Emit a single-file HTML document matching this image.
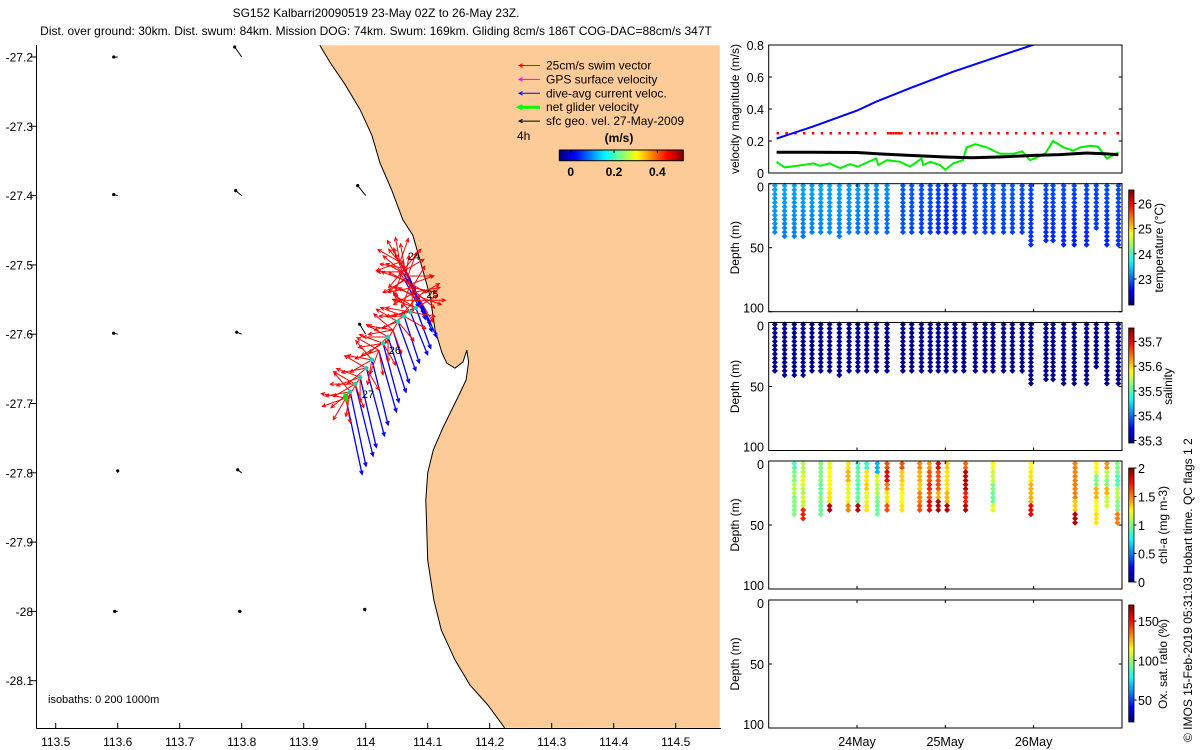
<!DOCTYPE html>
<html><head><meta charset="utf-8">
<style>
html,body{margin:0;padding:0;background:#fff;}
svg{display:block;font-family:"Liberation Sans",sans-serif;}
</style></head>
<body>
<svg id="fig" width="1200" height="750" viewBox="0 0 1200 750" xmlns="http://www.w3.org/2000/svg">
<defs>
<clipPath id="mapclip"><rect x="37" y="45" width="684" height="683"/></clipPath>
<clipPath id="velclip"><rect x="769" y="45" width="353" height="128"/></clipPath>
<linearGradient id="jetH" x1="0" y1="0" x2="1" y2="0">
<stop offset="0" stop-color="#00007f"/><stop offset="0.125" stop-color="#0000ff"/><stop offset="0.375" stop-color="#00ffff"/><stop offset="0.625" stop-color="#ffff00"/><stop offset="0.875" stop-color="#ff0000"/><stop offset="1" stop-color="#7f0000"/>
</linearGradient>
<linearGradient id="jetV" x1="0" y1="1" x2="0" y2="0">
<stop offset="0" stop-color="#00007f"/><stop offset="0.125" stop-color="#0000ff"/><stop offset="0.375" stop-color="#00ffff"/><stop offset="0.625" stop-color="#ffff00"/><stop offset="0.875" stop-color="#ff0000"/><stop offset="1" stop-color="#7f0000"/>
</linearGradient>
</defs>
<text x="376" y="17" font-size="12" text-anchor="middle">SG152 Kalbarri20090519 23-May 02Z to 26-May 23Z.</text>
<text x="376" y="35" font-size="12" text-anchor="middle">Dist. over ground: 30km. Dist. swum: 84km. Mission DOG: 74km. Swum: 169km. Gliding 8cm/s 186T COG-DAC=88cm/s 347T</text>
<g id="map"></g>
<g id="vel"></g>
<g id="prof"></g>
<text transform="translate(1192,742) rotate(-90)" font-size="12">© IMOS 15-Feb-2019 05:31:03 Hobart time. QC flags 1  2</text>
</svg>
<script>
// ---------------- DATA ----------------
const lonTicks=[113.5,113.6,113.7,113.8,113.9,114,114.1,114.2,114.3,114.4,114.5];
const latTicks=[-27.2,-27.3,-27.4,-27.5,-27.6,-27.7,-27.8,-27.9,-28,-28.1];
const coastLon=[113.926,113.942,113.967,113.991,114.010,114.023,114.042,114.060,114.076,114.092,114.104,114.112,114.123,114.131,114.144,114.157,114.163,114.166,114.162,114.152,114.141,114.125,114.109,114.100,114.097,114.100,114.110,114.122,114.144,114.168,114.197,114.224];
const coastLat=[-27.183,-27.207,-27.240,-27.276,-27.313,-27.353,-27.392,-27.435,-27.457,-27.507,-27.546,-27.594,-27.627,-27.642,-27.649,-27.640,-27.623,-27.640,-27.666,-27.685,-27.705,-27.734,-27.767,-27.800,-27.839,-27.926,-27.984,-28.027,-28.070,-28.106,-28.135,-28.168];
const diveLon=[114.055,114.063,114.059,114.068,114.063,114.072,114.075,114.080,114.084,114.088,114.081,114.072,114.062,114.052,114.044,114.036,114.028,114.021,114.010,114.001,113.991,113.983,113.975,113.968];
const diveLat=[-27.496,-27.505,-27.510,-27.516,-27.522,-27.528,-27.533,-27.539,-27.545,-27.551,-27.562,-27.568,-27.574,-27.582,-27.594,-27.604,-27.613,-27.623,-27.637,-27.649,-27.662,-27.672,-27.683,-27.692];
const dacSpeed=[0.22,0.24,0.26,0.28,0.30,0.32,0.34,0.36,0.38,0.40,0.43,0.46,0.49,0.52,0.55,0.58,0.61,0.64,0.67,0.70,0.72,0.74,0.76,0.78];
const dacDir=[152,154,150,156,152,155,157,155,158,156,160,158,162,160,163,162,165,164,166,165,167,166,168,168];
const swimDirs=[[300,330,20,250,350],[280,350,40,220,320],[310,60,270,200,340],[90,330,230,20,300],[290,120,10,240],[70,300,200,340],[100,260,30,180],[80,240,320,130],[60,290,110,220],[270,90,300,150],[250,300,290,60],[260,280,320,100],[240,290,270,120],[250,300,210,140],[280,260,310,160],[230,270,300,180],[260,290,240,150],[250,300,200,170],[240,280,320,190],[260,300,230,150],[250,290,210,180],[240,300,270,160],[260,230,320,190],[250,280,210,170]];
const gpsDives=[10,11,12,13,15,16,18,19,20,21,22,23];
const geoLon=[113.6,113.8,113.6,113.8,114.0,113.6,113.8,114.0,113.6,113.8,113.6,113.8,114.0];
const geoLat=[-27.2,-27.2,-27.4,-27.4,-27.4,-27.6,-27.6,-27.6,-27.8,-27.8,-28,-28,-28];
const geoU=[-0.04,-0.07,-0.04,-0.06,-0.08,-0.04,-0.05,-0.06,0,-0.04,-0.03,-0.02,-0.01];
const geoV=[0,0.10,0.01,0.05,0.10,0.01,0.02,0.10,0.02,0.03,0,0,0.02];
const dayLabels=["24May","25May","26May"];
const dayTicks=[1,2,3];
const velTicks=[0,0.2,0.4,0.6,0.8];
const blueT=[0.09,0.5,1.0,1.22,1.6,2.09,2.5,2.99,3.3];
const blueV=[0.215,0.29,0.39,0.446,0.53,0.633,0.71,0.80,0.86];
const blackT=[0.09,0.5,1.0,1.3,1.6,2.0,2.3,2.6,3.0,3.3,3.6,3.8,3.96];
const blackV=[0.13,0.13,0.128,0.118,0.11,0.10,0.095,0.10,0.11,0.115,0.125,0.12,0.115];
const greenT=[0.09,0.18,0.39,0.51,0.58,0.69,0.81,0.92,1.01,1.13,1.22,1.24,1.34,1.49,1.60,1.73,1.75,1.83,1.94,2.00,2.09,2.20,2.24,2.34,2.47,2.62,2.77,2.87,2.96,3.07,3.13,3.22,3.34,3.45,3.53,3.64,3.73,3.83,3.96];
const greenV=[0.07,0.035,0.05,0.06,0.045,0.06,0.03,0.055,0.04,0.07,0.09,0.05,0.08,0.07,0.04,0.09,0.05,0.07,0.05,0.02,0.06,0.08,0.16,0.18,0.16,0.12,0.12,0.135,0.08,0.105,0.12,0.2,0.16,0.14,0.16,0.17,0.165,0.09,0.13];
const redDotT=[0.1,0.2,0.3,0.4,0.5,0.6,0.7,0.8,0.9,1.0,1.1,1.2,1.35,1.38,1.41,1.44,1.47,1.5,1.6,1.7,1.8,1.85,1.9,2.0,2.1,2.2,2.3,2.4,2.5,2.6,2.7,2.8,2.9,3.0,3.1,3.2,3.3,3.4,3.5,3.6,3.7,3.8,3.95];
const profT=[0.07,0.18,0.29,0.39,0.49,0.59,0.69,0.80,0.91,1.01,1.11,1.22,1.34,1.52,1.62,1.73,1.83,1.92,2.01,2.11,2.21,2.34,2.45,2.54,2.66,2.76,2.87,2.97,3.14,3.22,3.34,3.46,3.60,3.71,3.83,3.96];
const profDepth=[40,42,42,44,41,41,40,42,40,40,40,41,40,40,40,40,40,40,40,40,40,40,40,40,40,40,38,48,47,47,48,48,48,35,48,48];
const tempTop=[23.3,23.3,23.28,23.3,23.28,23.3,23.3,23.28,23.25,23.25,23.22,23.2,23.2,22.95,22.95,22.9,22.9,22.85,22.8,22.8,22.85,22.9,22.9,22.95,22.95,22.95,22.9,22.85,22.9,22.9,22.9,22.88,22.85,22.85,22.9,22.9];
const tempBot=[23.15,23.1,23.1,23.05,23.1,23.1,23.15,23.1,23.1,23.05,23.0,23.0,23.0,22.9,22.85,22.8,22.8,22.7,22.7,22.7,22.75,22.8,22.8,22.8,22.8,22.8,22.8,22.75,22.7,22.7,22.7,22.65,22.7,22.8,22.7,22.75];
const salVal=[35.30,35.30,35.30,35.30,35.30,35.30,35.30,35.30,35.30,35.30,35.30,35.30,35.30,35.30,35.30,35.30,35.30,35.30,35.30,35.30,35.30,35.30,35.30,35.30,35.30,35.30,35.30,35.30,35.30,35.30,35.30,35.30,35.30,35.30,35.30,35.30];
const chlT=[0.29,0.39,0.59,0.69,0.90,1.01,1.11,1.23,1.34,1.51,1.71,1.82,1.92,2.02,2.23,2.54,2.97,3.47,3.71,3.83,3.95];
const chlDepth=[42,47,43,40,40,40,40,43,40,40,40,39,39,40,40,40,42,49,51,35,50];
const chlVals=[[0.9,1.0,1.1,1.0,1.0],[1.1,1.2,1.1,1.15,1.7],[1.0,1.0,0.95,1.0,0.95],[1.2,1.25,1.25,1.3,1.9],[1.3,1.4,1.2,1.2,1.5],[0.9,0.95,0.9,0.95,1.9],[0.85,1.3,1.35,1.2,1.3],[0.6,1.2,1.1,1.0,0.95],[1.6,1.8,1.5,1.3,1.6],[1.6,1.35,1.3,1.25,1.3],[1.5,1.4,1.35,1.5,1.6],[1.45,1.6,1.7,1.6,1.8],[1.8,1.6,1.6,1.4,1.9],[1.35,1.3,1.3,1.4,1.9],[1.55,1.9,1.9,1.7,1.9],[1.25,1.15,1.0,0.95,1.2],[1.25,1.3,1.4,1.4,1.8],[1.5,1.5,1.5,1.35,1.9],[1.25,1.0,1.4,1.25,1.3],[1.45,1.1,1.0,1.4,1.15],[1.0,0.9,1.1,1.0,1.5]];

// ---------------- HELPERS ----------------
const NS="http://www.w3.org/2000/svg";
function mk(parent,tag,attrs,txt){const e=document.createElementNS(NS,tag);for(const k in attrs)e.setAttribute(k,attrs[k]);if(txt!==undefined)e.textContent=txt;parent.appendChild(e);return e;}
function jet(f){f=Math.max(0,Math.min(1,f));
 const r=Math.max(0,Math.min(1,Math.min(4*f-1.5,-4*f+4.5)));
 const g=Math.max(0,Math.min(1,Math.min(4*f-0.5,-4*f+3.5)));
 const b=Math.max(0,Math.min(1,Math.min(4*f+0.5,-4*f+2.5)));
 return "rgb("+Math.round(r*255)+","+Math.round(g*255)+","+Math.round(b*255)+")";}
const xLon=lon=>55.7+(lon-113.5)*620;
const yLat=lat=>57+(-27.2-lat)*693;
const PXMS=100;
function arrow(parent,x1,y1,x2,y2,col,w,head,name){
 const g=mk(parent,'g',{});
 
 
 mk(g,'line',{x1:x1,y1:y1,x2:x2,y2:y2,stroke:col,'stroke-width':w});
 const a=Math.atan2(y2-y1,x2-x1);
 const p1=[x2-head*Math.cos(a-0.45),y2-head*Math.sin(a-0.45)],p2=[x2-head*Math.cos(a+0.45),y2-head*Math.sin(a+0.45)];
 mk(g,'polyline',{points:p1.join(',')+' '+x2+','+y2+' '+p2.join(','),fill:'none',stroke:col,'stroke-width':w});
 return g;}

// ---------------- MAP ----------------
const map=document.getElementById('map');
const inner=mk(map,'g',{'clip-path':'url(#mapclip)'});
let pts=coastLon.map((l,i)=>xLon(l).toFixed(1)+','+yLat(coastLat[i]).toFixed(1));
const xR=xLon(114.571);
const land=mk(inner,'polygon',{points:pts.join(' ')+' '+xR+','+yLat(-28.168)+' '+xR+','+yLat(-27.183),fill:'#fdcb97',stroke:'none'});


const coast=mk(inner,'polyline',{points:pts.join(' '),fill:'none',stroke:'#000','stroke-width':1});


geoLon.forEach((lo,i)=>{const x=xLon(lo),y=yLat(geoLat[i]);
 const x2=x+geoU[i]*PXMS,y2=y-geoV[i]*PXMS;
 const g=mk(inner,'g',{});
 
 
 mk(g,'line',{x1:x,y1:y,x2:x2,y2:y2,stroke:'#000','stroke-width':1});
 mk(g,'circle',{cx:x2,cy:y2,r:1.6,fill:'#000'});});
diveLon.forEach((lo,i)=>{const x=xLon(lo),y=yLat(diveLat[i]);const a=dacDir[i]*Math.PI/180;
 arrow(inner,x,y,x+Math.sin(a)*dacSpeed[i]*PXMS,y-Math.cos(a)*dacSpeed[i]*PXMS,'#0000ff',1.3,4,'dac-vector');});
swimDirs.forEach((ds,i)=>{const x=xLon(diveLon[i]),y=yLat(diveLat[i]);
 ds.forEach(d=>{const a=d*Math.PI/180;arrow(inner,x,y,x+Math.sin(a)*0.25*PXMS,y-Math.cos(a)*0.25*PXMS,'#ff0000',1,4,'swim-vector');});});
gpsDives.forEach(i=>{const c=mk(inner,'circle',{cx:xLon(diveLon[i]),cy:yLat(diveLat[i]),r:2.3,fill:'#20d0b0'});
 
 });
{const x=xLon(diveLon[23]),y=yLat(diveLat[23]);arrow(inner,x+1,y+4,x-1,y-3,'#00e000',3,3,'net-glider-velocity');}
[["24",0,8,-2],["25",9,6,-2],["26",17,10,4],["27",23,16,0]].forEach(d=>{const t=mk(inner,'text',{x:xLon(diveLon[d[1]])+d[2],y:yLat(diveLat[d[1]])+d[3],'font-size':11},d[0]);
 
 });
mk(map,'line',{x1:36.5,y1:45,x2:36.5,y2:728.5,stroke:'#000','stroke-width':1});
mk(map,'line',{x1:36.5,y1:728.5,x2:721,y2:728.5,stroke:'#000','stroke-width':1});
lonTicks.forEach(l=>{const x=xLon(l);mk(map,'line',{x1:x,y1:728,x2:x,y2:723,stroke:'#000'});
 const t=mk(map,'text',{x:x,y:746,'font-size':12,'text-anchor':'middle'},String(l));
 
 });
latTicks.forEach(l=>{const y=yLat(l);mk(map,'line',{x1:30,y1:y,x2:36.5,y2:y,stroke:'#000'});
 const t=mk(map,'text',{x:33,y:y+4.5,'font-size':12,'text-anchor':'end'},String(l));
 
 });
const iso=mk(map,'text',{x:48,y:703,'font-size':11},'isobaths: 0   200  1000m');


iso.setAttribute('xml:space','preserve');
const leg=mk(map,'g',{});


[["25cm/s swim vector","#ff0000",1],["GPS surface velocity","#ff00ff",1],["dive-avg current veloc.","#0000ff",1],["net glider velocity","#00ff00",3],["sfc geo. vel. 27-May-2009","#000000",1]].forEach((r,i)=>{
 const y=65.5+i*13.9;arrow(leg,540,y,519,y,r[1],r[2],4,'legend-arrow');
 const t=mk(leg,'text',{x:546,y:y+4,'font-size':12},r[0]);
 
 });
mk(leg,'text',{x:517,y:140,'font-size':12},'4h');
mk(leg,'text',{x:619,y:142,'font-size':12,'font-weight':'bold','text-anchor':'middle'},'(m/s)');
const cb=mk(leg,'rect',{x:559.3,y:150,width:124,height:10.7,fill:'url(#jetH)',stroke:'#000','stroke-width':1});


[0,0.2,0.4].forEach(v=>{const x=570.7+v*216.5;mk(leg,'line',{x1:x,y1:150,x2:x,y2:153,stroke:'#000'});
 mk(leg,'text',{x:x,y:176,'font-size':12,'font-weight':'bold','text-anchor':'middle'},String(v));});

// ---------------- VELOCITY PANEL ----------------
const tX=t=>768.7+t*88.3;
const vY=v=>173-v*160;
const vel=document.getElementById('vel');
const vc=mk(vel,'g',{'clip-path':'url(#velclip)'});
redDotT.forEach(t=>{const r=mk(vc,'rect',{x:tX(t)-1,y:vY(0.25)-1,width:2.5,height:2.5,fill:'#ff0000'});
 
 });
function line(par,T,V,col,w,name){const p=mk(par,'polyline',{points:T.map((t,i)=>tX(t).toFixed(1)+','+vY(V[i]).toFixed(1)).join(' '),fill:'none',stroke:col,'stroke-width':w});
 
 }
line(vc,blueT,blueV,'#0000ff',2,'dac-magnitude-line');
line(vc,greenT,greenV,'#00ee00',2,'glider-speed-line');
line(vc,blackT,blackV,'#000000',3,'geo-speed-line');
mk(vel,'rect',{x:768.7,y:45,width:353.3,height:128,fill:'none',stroke:'#000','stroke-width':1});
velTicks.forEach(v=>{const y=vY(v);mk(vel,'line',{x1:768.7,y1:y,x2:772,y2:y,stroke:'#000'});mk(vel,'line',{x1:1122,y1:y,x2:1118.7,y2:y,stroke:'#000'});
 const t=mk(vel,'text',{x:764,y:y+5,'font-size':12.5,'text-anchor':'end'},String(v));
 
 });
const vl=mk(vel,'text',{transform:'translate(739,109) rotate(-90)','font-size':12,'text-anchor':'middle'},'velocity magnitude (m/s)');



// ---------------- PROFILE PANELS ----------------
const prof=document.getElementById('prof');
const panels=[
 {top:183.7,cbTop:190,cbBot:305,lo:21.97,hi:26.53,ticks:[23,24,25,26],label:'temperature (°C)',name:'temperature',tx:1163},
 {top:322.5,cbTop:328,cbBot:443,lo:35.29,hi:35.754,ticks:[35.3,35.4,35.5,35.6,35.7],label:'salinity',name:'salinity',tx:1172},
 {top:461,cbTop:468,cbBot:582,lo:0,hi:2,ticks:[0,0.5,1,1.5,2],label:'chl-a (mg m-3)',name:'chlorophyll',tx:1167},
 {top:600,cbTop:605,cbBot:722,lo:22.2,hi:170.3,ticks:[50,100,150],label:'Ox. sat. ratio (%)',name:'oxygen',tx:1167}];
const PH=128;
function diamond(par,x,y,col,name){const p=mk(par,'path',{d:`M${x-3},${y}L${x},${y-3}L${x+3},${y}L${x},${y+3}Z`,fill:col});
 
 }
panels.forEach((P,pi)=>{
 const g=mk(prof,'g',{});
 
 
 const dY=d=>P.top+d*PH/100;
 const f=v=>(v-P.lo)/(P.hi-P.lo);
 if(pi<2){profT.forEach((t,i)=>{for(let d=1.5;d<=profDepth[i];d+=3.3){const fr=d/profDepth[i];
   const v=pi==0?tempTop[i]+(tempBot[i]-tempTop[i])*fr:salVal[i];
   diamond(g,tX(t),dY(d),jet(f(v)),P.name+'-sample');}});}
 if(pi==2){chlT.forEach((t,i)=>{const vals=chlVals[i];for(let d=2;d<=chlDepth[i];d+=3.3){const k=Math.min(4,Math.floor(d/chlDepth[i]*4.999));
   diamond(g,tX(t),dY(d),jet(f(vals[k])),'chl-sample');}});}
 mk(g,'rect',{x:768.7,y:P.top,width:353.3,height:PH,fill:'none',stroke:'#000','stroke-width':1});
 [0,50,100].forEach(d=>{const y=dY(d);mk(g,'line',{x1:768.7,y1:y,x2:772,y2:y,stroke:'#000'});mk(g,'line',{x1:1122,y1:y,x2:1118.7,y2:y,stroke:'#000'});
  const t=mk(g,'text',{x:764,y:d==0?y+8:(d==100?y+1:y+5),'font-size':12.5,'text-anchor':'end'},String(d));
  
  });
 dayTicks.forEach(dd=>{const x=tX(dd);mk(g,'line',{x1:x,y1:P.top+PH,x2:x,y2:P.top+PH-3,stroke:'#000'});mk(g,'line',{x1:x,y1:P.top,x2:x,y2:P.top+3,stroke:'#000'});});
 const yl=mk(g,'text',{transform:`translate(739,${P.top+64}) rotate(-90)`,'font-size':12,'text-anchor':'middle'},'Depth (m)');
 
 
 const cbar=mk(g,'rect',{x:1128.7,y:P.cbTop,width:5.3,height:P.cbBot-P.cbTop,fill:'url(#jetV)',stroke:'#000','stroke-width':0.8});
 
 
 P.ticks.forEach(v=>{const y=P.cbBot-f(v)*(P.cbBot-P.cbTop);mk(g,'line',{x1:1134,y1:y,x2:1136.5,y2:y,stroke:'#000'});
  const t=mk(g,'text',{x:1138,y:y+5,'font-size':12.5},String(v));
  
  });
 const cl=mk(g,'text',{transform:`translate(${P.tx},${P.top+64}) rotate(-90)`,'font-size':12,'text-anchor':'middle'},P.label);
 
 
});
dayTicks.forEach((dd,i)=>{const t=mk(prof,'text',{x:tX(dd),y:746,'font-size':12.5,'text-anchor':'middle'},dayLabels[i]);
 
 });
</script>
</body></html>
